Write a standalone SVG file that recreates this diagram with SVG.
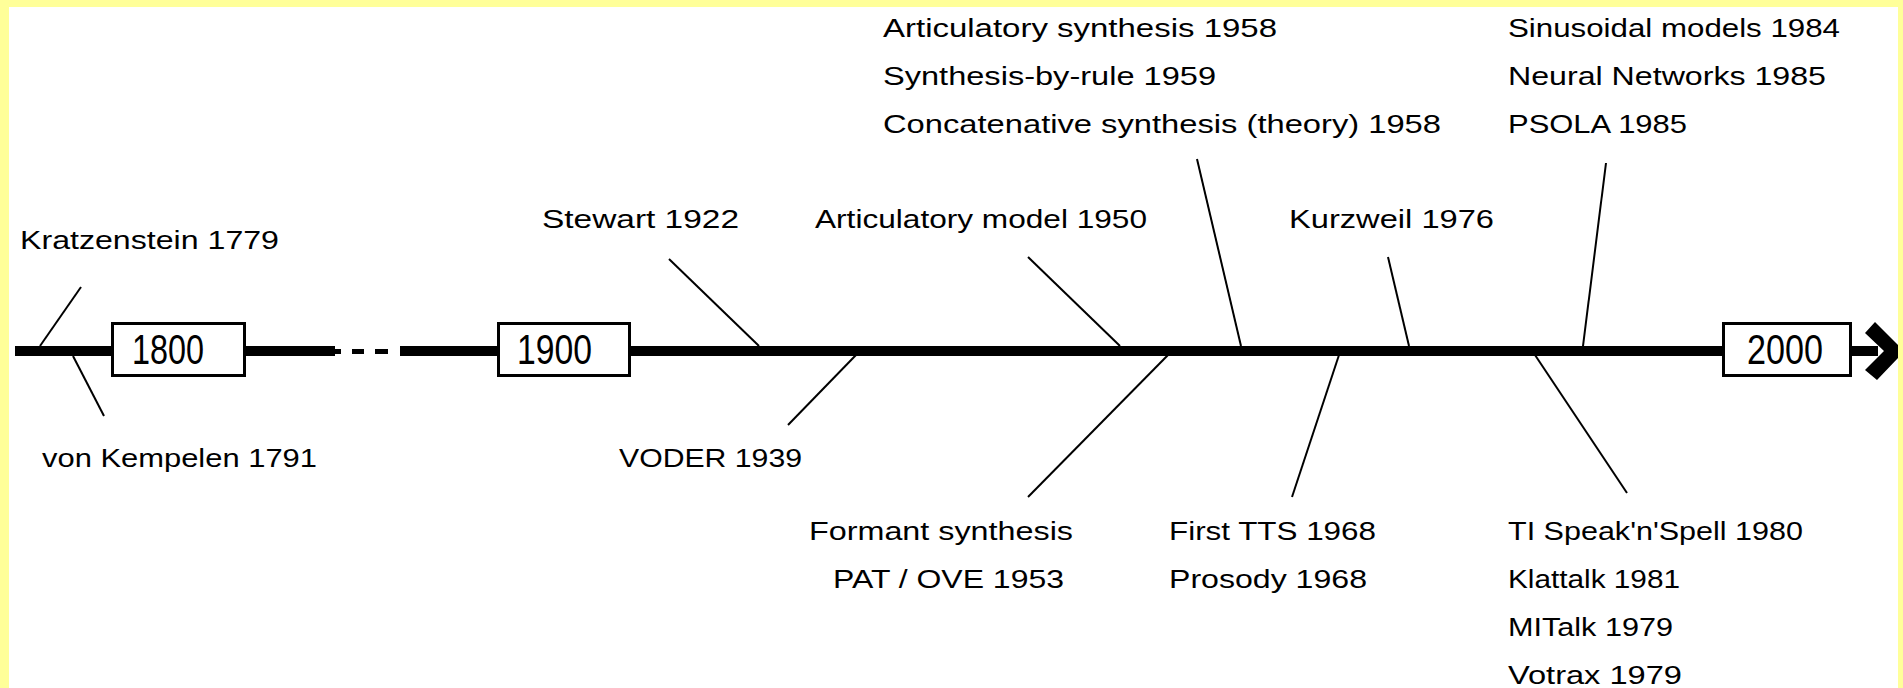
<svg xmlns="http://www.w3.org/2000/svg" width="1903" height="688" viewBox="0 0 1903 688">
<style>
.lbl{font-family:"Liberation Sans",Arial,sans-serif;font-size:26px;fill:#000}
.yr{font-family:"Liberation Sans",Arial,sans-serif;font-size:42px;fill:#000}
.box{fill:#fff;stroke:#000;stroke-width:3}
.con line{stroke:#000;stroke-width:2}
</style>
<rect x="0" y="0" width="1903" height="688" fill="#FFFF99"/>
<rect x="9" y="7" width="1889" height="681" fill="#fff"/>
<g id="timeline">
<rect x="15" y="346" width="320" height="10" fill="#000"/>
<rect x="335" y="349" width="6" height="5" fill="#000"/>
<rect x="352" y="349" width="12" height="5" fill="#000"/>
<rect x="375" y="349" width="13" height="5" fill="#000"/>
<rect x="400" y="346" width="1478" height="10" fill="#000"/>
<polygon points="1865,333 1875,322 1898,345 1898,358 1877,380 1865,370 1884,351" fill="#000"/>
</g>
<g id="connectors" class="con">
<line x1="40" y1="346" x2="81" y2="287"/>
<line x1="73" y1="356" x2="104" y2="416"/>
<line x1="669" y1="259" x2="759" y2="346"/>
<line x1="856" y1="355" x2="788" y2="425"/>
<line x1="1028" y1="257" x2="1120" y2="346"/>
<line x1="1168" y1="355" x2="1028" y2="497"/>
<line x1="1197" y1="159" x2="1241" y2="346"/>
<line x1="1339" y1="355" x2="1292" y2="497"/>
<line x1="1388" y1="257" x2="1409" y2="346"/>
<line x1="1535" y1="355" x2="1627" y2="493"/>
<line x1="1606" y1="163" x2="1583" y2="346"/>
</g>
<g id="y1800"><rect class="box" x="112.5" y="323.5" width="132" height="52"/><text class="yr" x="132" y="364" textLength="72" lengthAdjust="spacingAndGlyphs">1800</text></g>
<g id="y1900"><rect class="box" x="498.5" y="323.5" width="131" height="52"/><text class="yr" x="517" y="364" textLength="75" lengthAdjust="spacingAndGlyphs">1900</text></g>
<g id="y2000"><rect class="box" x="1723.5" y="323.5" width="127" height="52"/><text class="yr" x="1747" y="364" textLength="76" lengthAdjust="spacingAndGlyphs">2000</text></g>
<g id="kratzenstein"><text class="lbl" x="20" y="249" textLength="259" lengthAdjust="spacingAndGlyphs">Kratzenstein 1779</text></g>
<g id="kempelen"><text class="lbl" x="42" y="467" textLength="275" lengthAdjust="spacingAndGlyphs">von Kempelen 1791</text></g>
<g id="stewart"><text class="lbl" x="542" y="228" textLength="197" lengthAdjust="spacingAndGlyphs">Stewart 1922</text></g>
<g id="voder"><text class="lbl" x="619" y="467" textLength="183" lengthAdjust="spacingAndGlyphs">VODER 1939</text></g>
<g id="artmodel"><text class="lbl" x="815" y="228" textLength="332" lengthAdjust="spacingAndGlyphs">Articulatory model 1950</text></g>
<g id="synth58">
<text class="lbl" x="883" y="37" textLength="394" lengthAdjust="spacingAndGlyphs">Articulatory synthesis 1958</text>
<text class="lbl" x="883" y="85" textLength="333" lengthAdjust="spacingAndGlyphs">Synthesis-by-rule 1959</text>
<text class="lbl" x="883" y="133" textLength="558" lengthAdjust="spacingAndGlyphs">Concatenative synthesis (theory) 1958</text>
</g>
<g id="kurzweil"><text class="lbl" x="1289" y="228" textLength="205" lengthAdjust="spacingAndGlyphs">Kurzweil 1976</text></g>
<g id="sinusoidal">
<text class="lbl" x="1508" y="37" textLength="332" lengthAdjust="spacingAndGlyphs">Sinusoidal models 1984</text>
<text class="lbl" x="1508" y="85" textLength="318" lengthAdjust="spacingAndGlyphs">Neural Networks 1985</text>
<text class="lbl" x="1508" y="133" textLength="179" lengthAdjust="spacingAndGlyphs">PSOLA 1985</text>
</g>
<g id="formant">
<text class="lbl" x="809" y="540" textLength="264" lengthAdjust="spacingAndGlyphs">Formant synthesis</text>
<text class="lbl" x="833" y="588" textLength="231" lengthAdjust="spacingAndGlyphs">PAT / OVE 1953</text>
</g>
<g id="firsttts">
<text class="lbl" x="1169" y="540" textLength="207" lengthAdjust="spacingAndGlyphs">First TTS 1968</text>
<text class="lbl" x="1169" y="588" textLength="198" lengthAdjust="spacingAndGlyphs">Prosody 1968</text>
</g>
<g id="speakspell">
<text class="lbl" x="1508" y="540" textLength="295" lengthAdjust="spacingAndGlyphs">TI Speak'n'Spell 1980</text>
<text class="lbl" x="1508" y="588" textLength="172" lengthAdjust="spacingAndGlyphs">Klattalk 1981</text>
<text class="lbl" x="1508" y="636" textLength="165" lengthAdjust="spacingAndGlyphs">MITalk 1979</text>
<text class="lbl" x="1508" y="684" textLength="174" lengthAdjust="spacingAndGlyphs">Votrax 1979</text>
</g>
</svg>
